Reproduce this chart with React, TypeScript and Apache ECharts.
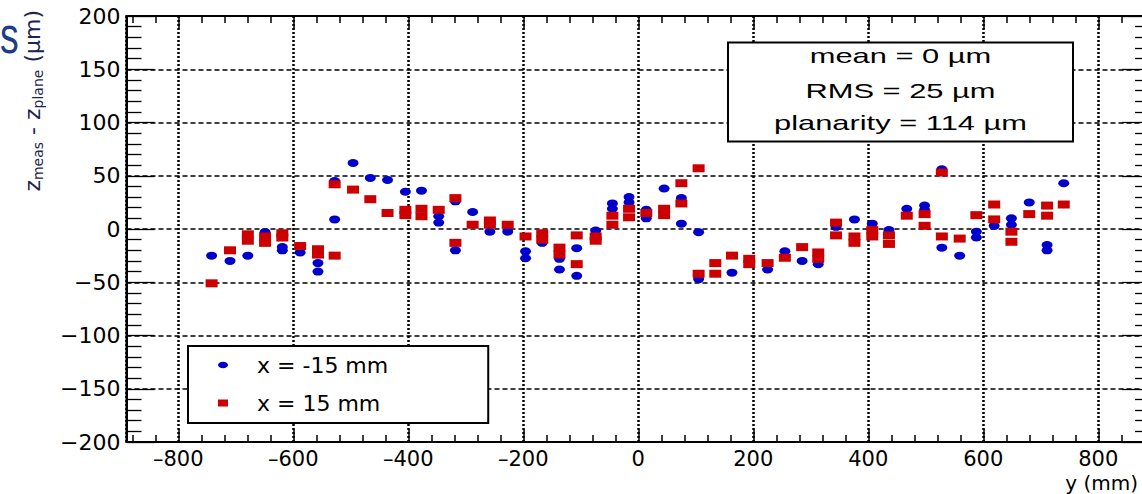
import React, { useEffect, useRef } from "react";
import * as echarts from "echarts";

// Data (y position in mm, z_meas - z_plane in µm)
const blueData: [number, number][] = [
  [-742, -25], [-710, -30], [-679, -25], [-649, -3], [-619, -17], [-619, -20],
  [-588, -22], [-557, -32], [-557, -40], [-528, 9], [-528, 45], [-496, 62],
  [-466, 48], [-436, 46], [-405, 35], [-377, 36], [-347, 12], [-347, 6],
  [-318, 26], [-318, -20], [-288, 16], [-258, -2.5], [-227, -2.5], [-196, -21],
  [-196, -27.5], [-167, -13], [-137, -28], [-137, -38], [-107, -18], [-107, -44],
  [-74, -1.5], [-45, 24], [-45, 19], [-16, 30], [-16, 25], [14, 18], [14, 10],
  [45, 38], [75, 29], [75, 5], [105, -3], [105, -47], [163, -41], [225, -38],
  [255, -21], [285, -30], [313, -33], [344, 2], [376, 9], [407, 5], [436, -1],
  [467, 19], [498, 22], [498, 18], [528, 56], [528, -17.5], [559, -25],
  [588, -2.5], [588, -8], [619, 3], [649, 10], [649, 4], [680, 25], [711, -15],
  [711, -20], [740, 43],
];

const redData: [number, number][] = [
  [-742, -51], [-710, -20], [-679, -5], [-679, -11], [-649, -7], [-649, -13],
  [-619, -4], [-619, -8], [-588, -16], [-557, -19], [-557, -24], [-528, 42],
  [-528, -25], [-496, 37], [-466, 28], [-436, 15], [-405, 18], [-405, 13],
  [-377, 19], [-377, 12], [-347, 18], [-318, 29], [-318, -13], [-288, 4],
  [-258, 8], [-258, 4], [-227, 4], [-196, -7], [-167, -4], [-167, -10],
  [-137, -17.5], [-137, -24], [-107, -6], [-107, -33], [-74, -7], [-74, -11],
  [-45, 12.5], [-45, 4], [-16, 19], [-16, 11], [14, 15], [45, 19], [45, 13],
  [75, 43], [75, 24], [105, 57], [105, -42], [134, -32], [134, -42], [163, -25],
  [193, -28], [193, -33], [225, -32], [255, -27], [285, -17], [313, -22],
  [313, -28], [344, 6], [344, -6], [376, -7], [376, -13], [407, -1], [407, -7],
  [436, -6], [436, -14], [467, 12.5], [498, 14], [498, 3], [528, 53], [528, -7],
  [559, -9], [588, 13], [619, 23], [619, 9], [649, -2.5], [649, -12], [680, 14],
  [711, 22], [711, 12.5], [740, 23],
];

const seriesNames = ["x = -15 mm", "x = 15 mm"];
const statsLines = ["mean = 0 \u00b5m", "RMS = 25 \u00b5m", "planarity = 114 \u00b5m"];
const xAxisTitle = "y (mm)";
const yAxisTitle = "{a|z}{b|meas}{a| - z}{b|plane}{a| (\u00b5m)}";

const X_MIN = -890;
const X_MAX = 890;
const Y_MIN = -200;
const Y_MAX = 200;
const Y_STEP = 50;

const ELLIPSE = "path://M0,4A6,4 0 1,1 12,4A6,4 0 1,1 0,4Z";
const BLUE = "#0000cc";
const RED = "#cc0000";
const FONT = "DejaVu Sans";
const TITLE_COLOR = "#1c2450";

function buildOption(): any {
  const xLabelFmt = (v: number) => (v < 0 ? "\u2013" + Math.abs(v) : String(v));
  const yLabelFmt = (v: number) => (v < 0 ? "\u2212" + Math.abs(v) : String(v));

  const commonX = {
    type: "value",
    min: X_MIN,
    max: X_MAX,
    splitNumber: 9,
    axisLine: { show: true, onZero: false, lineStyle: { color: "#000", width: 2 } },
    axisTick: { show: true, inside: true, length: 13, lineStyle: { color: "#000", width: 1.5 } },
    minorTick: { show: true, splitNumber: 5, length: 7, lineStyle: { color: "#000", width: 1.5 } },
  };
  const commonY = {
    type: "value",
    min: Y_MIN,
    max: Y_MAX,
    interval: Y_STEP,
    axisLine: { show: true, onZero: false, lineStyle: { color: "#000", width: 2 } },
    axisTick: { show: true, inside: true, length: 28, lineStyle: { color: "#000", width: 1.3 } },
    minorTick: { show: true, splitNumber: 5, length: 15, lineStyle: { color: "#000", width: 1.3 } },
  };

  const statsYs = [56, 91, 123];

  return {
    animation: false,
    backgroundColor: "#fff",
    grid: {
      left: 126.5,
      top: 16,
      width: 1023.5,
      height: 426,
      show: true,
      borderColor: "#000",
      borderWidth: 2,
      backgroundColor: "transparent",
      containLabel: false,
      outerBoundsMode: "none",
    },
    xAxis: [
      {
        ...commonX,
        position: "bottom",
        axisLabel: {
          show: true,
          margin: 7,
          lineHeight: 20,
          color: "#000",
          fontFamily: FONT,
          fontSize: 21,
          showMinLabel: false,
          showMaxLabel: false,
          formatter: xLabelFmt,
        },
        splitLine: { show: true, lineStyle: { color: "#000", width: 2.5, type: [2, 2] } },
        name: xAxisTitle,
        nameLocation: "end",
        nameGap: -12,
        nameMoveOverlap: false,
        nameTextStyle: {
          fontFamily: FONT,
          fontSize: 20,
          lineHeight: 20,
          color: "#000",
          align: "right",
          verticalAlign: "top",
          padding: [31, 0, 0, 0],
        },
      },
      {
        ...commonX,
        position: "top",
        axisLabel: { show: false },
        splitLine: { show: false },
      },
    ],
    yAxis: [
      {
        ...commonY,
        position: "left",
        axisLabel: {
          show: true,
          margin: 6,
          color: "#000",
          fontFamily: FONT,
          fontSize: 22,
          formatter: yLabelFmt,
        },
        splitLine: { show: true, lineStyle: { color: "#000", width: 1.5, type: [5, 3] } },
        name: yAxisTitle,
        nameLocation: "end",
        nameRotate: 90,
        nameGap: 6,
        nameMoveOverlap: false,
        nameTextStyle: {
          align: "right",
          verticalAlign: "bottom",
          padding: [0, 0, 82, 0],
          color: TITLE_COLOR,
          rich: {
            a: { fontFamily: FONT, fontSize: 22, color: TITLE_COLOR },
            b: { fontFamily: FONT, fontSize: 14, color: TITLE_COLOR, padding: [10, 0, 0, 0] },
          },
        },
      },
      {
        ...commonY,
        position: "right",
        axisLabel: { show: false },
        splitLine: { show: false },
      },
    ],
    legend: {
      orient: "vertical",
      left: 188,
      top: 346,
      padding: [8, 100, 9, 30],
      itemGap: 16,
      itemWidth: 10,
      itemHeight: 7,
      borderColor: "#000",
      borderWidth: 2,
      borderRadius: 0,
      backgroundColor: "#fff",
      selectedMode: false,
      textStyle: { fontFamily: FONT, fontSize: 22, color: "#000", padding: [0, 0, 0, 24] },
      data: [
        { name: seriesNames[0], icon: ELLIPSE },
        { name: seriesNames[1], icon: "rect" },
      ],
    },
    series: [
      {
        name: seriesNames[0],
        type: "scatter",
        xAxisIndex: 0,
        yAxisIndex: 0,
        data: blueData,
        symbol: ELLIPSE,
        symbolSize: [11, 8],
        itemStyle: { color: BLUE, opacity: 1 },
        emphasis: { disabled: true },
        z: 3,
      },
      {
        name: seriesNames[1],
        type: "scatter",
        xAxisIndex: 0,
        yAxisIndex: 0,
        data: redData,
        symbol: "rect",
        symbolSize: [12, 8],
        itemStyle: { color: RED, opacity: 1 },
        emphasis: { disabled: true },
        z: 4,
      },
    ],
    graphic: [
      {
        type: "text",
        x: 0,
        y: 35,
        scaleX: 0.72,
        z: 100,
        style: {
          text: "s",
          fontFamily: "Liberation Sans",
          fontSize: 52,
          fill: "#1f3c86",
          align: "left",
          verticalAlign: "middle",
        },
      },
      {
        type: "rect",
        z: 100,
        shape: { x: 728, y: 42.5, width: 345, height: 99 },
        style: { fill: "#fff", stroke: "#000", lineWidth: 2 },
      },
      ...statsLines.map((t, i) => ({
        type: "text",
        x: 900.5,
        y: statsYs[i],
        scaleX: 1.47,
        z: 101,
        style: {
          text: t,
          fontFamily: "Liberation Sans",
          fontSize: 21,
          fill: "#000",
          align: "center",
          verticalAlign: "middle",
        },
      })),
    ],
  };
}

export default function App() {
  const ref = useRef<HTMLDivElement>(null);
  useEffect(() => {
    if (!ref.current) return;
    const chart = echarts.init(ref.current, null, { renderer: "svg" });
    chart.setOption(buildOption());
    return () => chart.dispose();
  }, []);
  return (
    <div
      ref={ref}
      style={{ position: "absolute", left: 0, top: 0, width: 1142, height: 494, background: "#fff" }}
    />
  );
}
